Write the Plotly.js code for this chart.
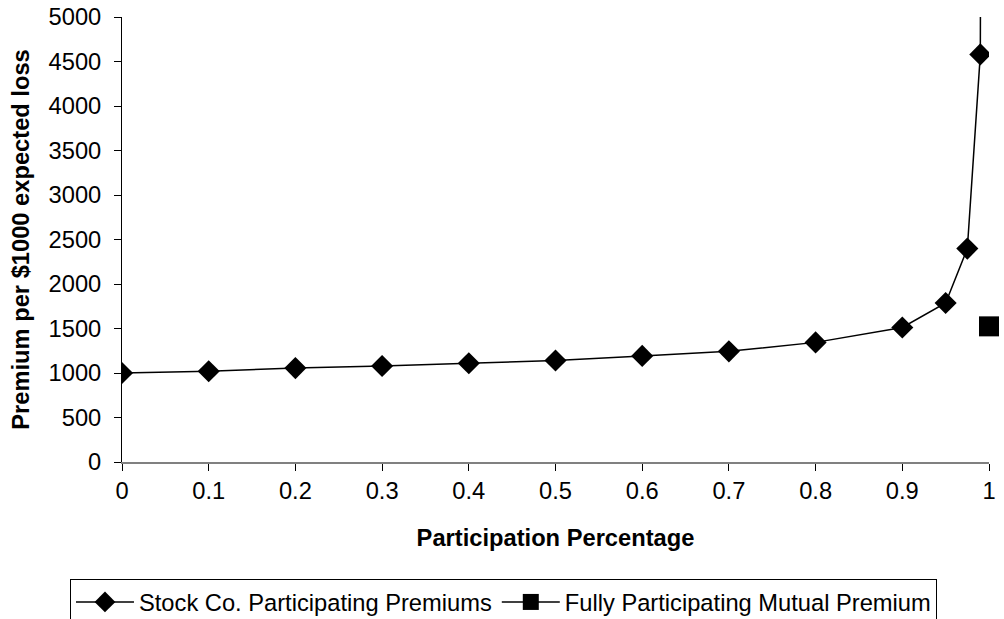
<!DOCTYPE html>
<html>
<head>
<meta charset="utf-8">
<script src="https://cdn.plot.ly/plotly-3.0.1.min.js"></script>
<style>html,body{margin:0;padding:0;background:#fff;}#chart{width:1004px;height:619px;}</style>
</head>
<body>
<div id="chart"></div>
<script>
// Data
const participation = [0, 0.1, 0.2, 0.3, 0.4, 0.5, 0.6, 0.7, 0.8, 0.9, 0.95, 0.975, 0.99, 0.999];
const stockPremiums = [1000, 1020, 1055, 1078, 1110, 1140, 1192, 1243, 1344, 1512, 1787, 2398, 4580, 45000];
const mutualX = [1];
const mutualPremium = [1524];
const yTicks = [0, 500, 1000, 1500, 2000, 2500, 3000, 3500, 4000, 4500, 5000];
const xTicks = [0, 0.1, 0.2, 0.3, 0.4, 0.5, 0.6, 0.7, 0.8, 0.9, 1];
const xTickLabels = ['0', '0.1', '0.2', '0.3', '0.4', '0.5', '0.6', '0.7', '0.8', '0.9', '1'];

const FONT = '"Liberation Sans", Arial, Helvetica, sans-serif';
const FS = 23.7;

const traces = [
  {
    x: participation, y: stockPremiums,
    name: 'Stock Co. Participating Premiums',
    type: 'scatter', mode: 'lines+markers',
    line: {color: '#000000', width: 1.5},
    marker: {symbol: 'diamond', size: 17, color: '#000000'},
    cliponaxis: true
  },
  {
    x: mutualX, y: mutualPremium,
    name: 'Fully Participating Mutual Premium',
    type: 'scatter', mode: 'lines+markers',
    line: {color: '#000000', width: 1.5},
    marker: {symbol: 'square', size: 20, color: '#000000'},
    cliponaxis: false
  }
];

const layout = {
  width: 1004, height: 619,
  paper_bgcolor: '#ffffff', plot_bgcolor: '#ffffff',
  margin: {l: 122, r: 15, t: 17, b: 157, autoexpand: false},
  font: {family: FONT, size: FS, color: '#000000'},
  showlegend: true,
  xaxis: {
    range: [0, 1], tickvals: xTicks, ticktext: xTickLabels,
    showgrid: false, zeroline: false,
    showline: true, linecolor: '#808080', linewidth: 2,
    ticks: 'outside', ticklen: 7, tickcolor: '#000000', tickwidth: 1,
    tickfont: {family: FONT, size: FS, color: '#000000'},
    title: {text: '<b>Participation Percentage</b>', font: {family: FONT, size: FS, color: '#000000'}, standoff: 26},
    fixedrange: true
  },
  yaxis: {
    range: [0, 5000], tickvals: yTicks,
    showgrid: false, zeroline: false,
    showline: true, linecolor: '#000000', linewidth: 1,
    ticks: 'outside', ticklen: 7, tickcolor: '#000000', tickwidth: 1,
    ticklabelstandoff: 8,
    tickfont: {family: FONT, size: FS, color: '#000000'},
    title: {text: '<b>Premium per $1000 expected loss</b>', font: {family: FONT, size: FS, color: '#000000'}, standoff: 12},
    fixedrange: true
  },
  legend: {
    orientation: 'h',
    x: -0.06, xanchor: 'left',
    y: -0.263, yanchor: 'top',
    bordercolor: '#000000', borderwidth: 1,
    bgcolor: '#ffffff',
    font: {family: FONT, size: FS, color: '#000000'},
    itemwidth: 58,
    traceorder: 'normal'
  }
};

Plotly.newPlot('chart', traces, layout, {displayModeBar: false, staticPlot: true});
</script>
</body>
</html>
